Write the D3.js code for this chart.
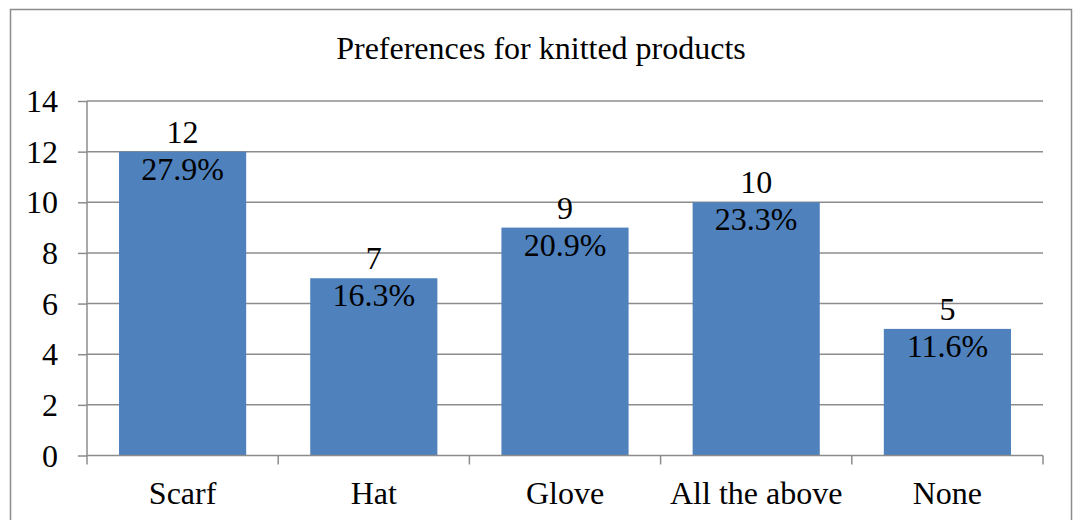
<!DOCTYPE html>
<html><head><meta charset="utf-8">
<script src="https://cdn.jsdelivr.net/npm/d3@7"></script>
<style>body{margin:0;background:#fff}svg{display:block}</style>
</head><body><svg id="c" width="1073" height="520"></svg>
<script>
const categories = ["Scarf","Hat","Glove","All the above","None"];
const counts = [12,7,9,10,5];
const percents = ["27.9%","16.3%","20.9%","23.3%","11.6%"];
const yTicks = [0,2,4,6,8,10,12,14];
const title = "Preferences for knitted products";

const FONT = "'Liberation Serif','Times New Roman',Times,serif";
const svg = d3.select("#c");
svg.append("rect").attr("x",10.5).attr("y",9.5).attr("width",1061).attr("height",520)
  .attr("fill","#fff").attr("stroke","#8c8c8c").attr("stroke-width",1.5);

const m = {l:87, r:1043, t:101, b:455.5};
const x = d3.scaleBand().domain(categories).range([m.l,m.r]).paddingInner(0.335).paddingOuter(0.1675);
const xb = d3.scaleBand().domain(categories).range([m.l,m.r]);
const y = d3.scaleLinear().domain([0,14]).range([m.b,m.t]);

function styleText(sel){ return sel.style("font-family",FONT).style("font-size","32px").style("fill","#000"); }

styleText(svg.append("text").attr("x",541).attr("y",59).attr("text-anchor","middle").text(title));

// gridlines
svg.append("g").selectAll("line").data(yTicks.filter(d=>d>0)).join("line")
  .attr("x1",m.l).attr("x2",m.r).attr("y1",d=>y(d)).attr("y2",d=>y(d))
  .attr("stroke","#8c8c8c").attr("stroke-width",1.5);

// y axis
const ya = svg.append("g").attr("transform",`translate(${m.l},0)`)
  .call(d3.axisLeft(y).tickValues(yTicks).tickSize(9).tickPadding(20).tickFormat(d3.format("d")));
ya.select(".domain").attr("stroke","#8c8c8c").attr("stroke-width",1.5).attr("d",`M0,${m.t}V${m.b}`);
ya.selectAll(".tick line").attr("stroke","#8c8c8c").attr("stroke-width",1.5);
styleText(ya.selectAll(".tick text")).attr("dy","0.33em");

// bars
svg.append("g").selectAll("rect").data(counts).join("rect")
  .attr("x",(d,i)=>x(categories[i])).attr("width",x.bandwidth())
  .attr("y",d=>y(d)).attr("height",d=>y(0)-y(d)).attr("fill","#4F81BD");

// x axis
const xa = svg.append("g").attr("transform",`translate(0,${m.b})`)
  .call(d3.axisBottom(xb).tickSize(0).tickPadding(48));
xa.select(".domain").attr("stroke","#8c8c8c").attr("stroke-width",1.5).attr("d",`M${m.l},0H${m.r}`);
styleText(xa.selectAll(".tick text")).attr("dy","0");
const bounds = categories.map(c=>xb(c)).concat([m.r]);
xa.selectAll(".sep").data(bounds).join("line").attr("class","sep")
  .attr("x1",d=>d).attr("x2",d=>d).attr("y1",0).attr("y2",9)
  .attr("stroke","#8c8c8c").attr("stroke-width",1.5);

// labels
const lg = svg.append("g");
styleText(lg.selectAll(".v").data(counts).join("text").attr("class","v"))
  .attr("text-anchor","middle")
  .attr("x",(d,i)=>x(categories[i])+x.bandwidth()/2).attr("y",d=>y(d)-9).text(d=>d);
styleText(lg.selectAll(".p").data(counts).join("text").attr("class","p"))
  .attr("text-anchor","middle")
  .attr("x",(d,i)=>x(categories[i])+x.bandwidth()/2).attr("y",d=>y(d)+28).text((d,i)=>percents[i]);
</script></body></html>
